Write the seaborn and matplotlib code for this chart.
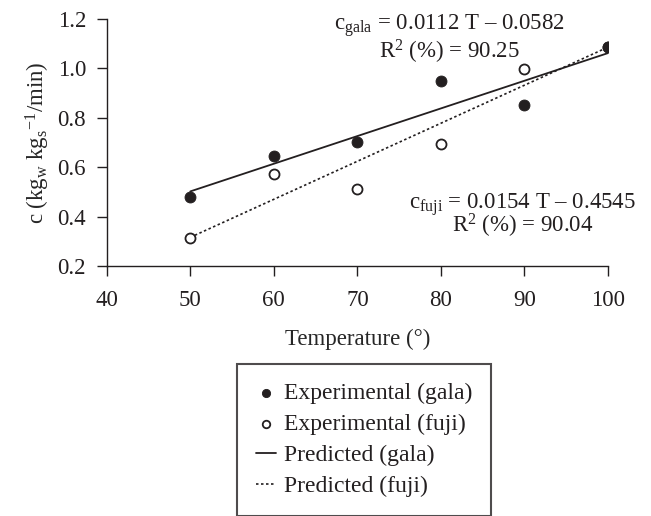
import numpy as np
import pandas as pd
import matplotlib
matplotlib.use('Agg')
import matplotlib.pyplot as plt
import seaborn as sns

# data
temp = [50, 60, 70, 80, 90, 100]
exp_gala = [0.479, 0.645, 0.703, 0.949, 0.853, 1.087]
exp_fuji = [0.312, 0.572, 0.510, 0.695, 0.996, 1.085]
pred_temp = [50, 100]
pred_gala = [0.502, 1.062]
pred_fuji = [0.316, 1.086]

x_ticks = [40, 50, 60, 70, 80, 90, 100]
y_ticks = [0.2, 0.4, 0.6, 0.8, 1.0, 1.2]

INK = '#231f20'

sns.set_theme(style='ticks')
plt.rcParams['font.family'] = ['Liberation Serif', 'DejaVu Serif']
plt.rcParams['mathtext.fontset'] = 'custom'
plt.rcParams['mathtext.rm'] = 'Liberation Serif'
plt.rcParams['mathtext.it'] = 'Liberation Serif:italic'
plt.rcParams['text.color'] = INK

fig = plt.figure(figsize=(6.51, 5.16), dpi=100)
ax = fig.add_axes([0.164, 0.4845, 0.770, 0.4787])

df = pd.DataFrame({'T': temp, 'gala': exp_gala, 'fuji': exp_fuji})
pred = pd.DataFrame({'T': pred_temp, 'gala': pred_gala, 'fuji': pred_fuji})

sns.lineplot(data=pred, x='T', y='fuji', ax=ax, color=INK, linewidth=1.2,
             linestyle=(0, (1.5, 1.5)), label='Predicted (fuji)', zorder=2)
sns.lineplot(data=pred, x='T', y='gala', ax=ax, color=INK, linewidth=1.3,
             label='Predicted (gala)', zorder=2)
sns.scatterplot(data=df, x='T', y='fuji', ax=ax, marker='o', s=52,
                facecolor='white', edgecolor=INK, linewidth=1.3,
                label='Experimental (fuji)', zorder=3)
sns.scatterplot(data=df, x='T', y='gala', ax=ax, marker='o', s=62,
                color=INK, edgecolor=INK, label='Experimental (gala)', zorder=4)

ax.set_xlim(40, 100)
ax.set_ylim(0.2, 1.2)
ax.set_xticks(x_ticks)
ax.set_yticks(y_ticks)
ax.set_yticklabels([f'{v:.1f}' for v in y_ticks])
ax.tick_params(labelsize=16.5, colors=INK, length=7, width=1)
ax.tick_params(axis='x', pad=10)
ax.tick_params(axis='y', pad=8)
sns.despine(ax=ax)
for sp in ['left', 'bottom']:
    ax.spines[sp].set_color(INK)
    ax.spines[sp].set_linewidth(1)

ax.set_xlabel('Temperature (°)', fontsize=16.5, labelpad=13)
ax.set_ylabel(r'c (kg$_\mathrm{w}$ kg$_\mathrm{s}$$^{-1}$/min)', fontsize=16.5, labelpad=4)

ax.text(81.0, 1.118, 'c$_\\mathrm{gala}$ = 0.0112 T – 0.0582\nR$^2$ (%) = 90.25',
        fontsize=16.5, ha='center', va='center', multialignment='center',
        linespacing=0.97)
ax.text(89.8, 0.403, 'c$_\\mathrm{fuji}$ = 0.0154 T – 0.4545\nR$^2$ (%) = 90.04',
        fontsize=16.5, ha='center', va='center', multialignment='center',
        linespacing=0.72)

handles, labels = ax.get_legend_handles_labels()
order = ['Experimental (gala)', 'Experimental (fuji)', 'Predicted (gala)', 'Predicted (fuji)']
hmap = dict(zip(labels, handles))
ax.legend([hmap[k] for k in order], order, loc='upper left',
          bbox_to_anchor=(237 / 651, 1 - 364 / 516), bbox_transform=fig.transFigure,
          borderaxespad=0, fontsize=17, frameon=True, fancybox=False, edgecolor=INK,
          handlelength=0.85, handletextpad=0.35, labelspacing=0.4,
          borderpad=0.8, markerscale=0.75)
ax.get_legend().get_frame().set_linewidth(1.5)

fig.savefig('out.png', dpi=100)
